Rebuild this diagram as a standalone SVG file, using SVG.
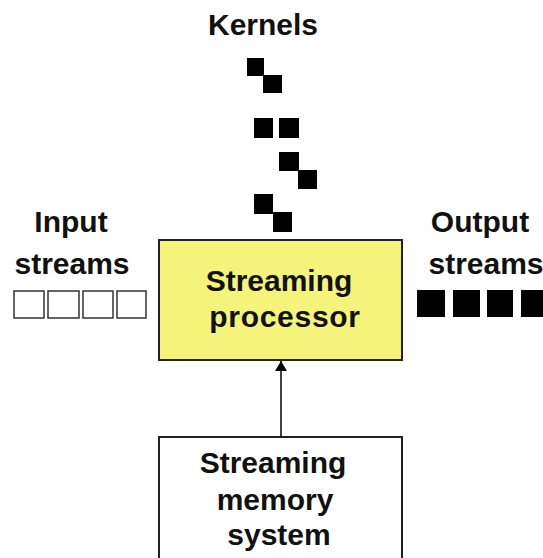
<svg xmlns="http://www.w3.org/2000/svg" width="543" height="558" viewBox="0 0 543 558">
<defs>
<style>
text{font-family:"Liberation Sans",Arial,sans-serif;font-weight:bold;font-size:30px;fill:#111;text-anchor:middle}
.k{fill:#000}
.in{fill:#fff;stroke:#333;stroke-width:1.5}
.box{stroke:#222;stroke-width:2}
</style>
<marker id="ah" viewBox="0 0 10 12" refX="10" refY="6" markerWidth="10" markerHeight="12" markerUnits="userSpaceOnUse" orient="auto">
<path d="M0,0 L10,6 L0,12 Z" fill="#000"/>
</marker>
</defs>
<rect width="543" height="558" fill="#fff"/>
<g id="kernels">
<text x="263" y="35">Kernels</text>
<rect class="k" x="247" y="58" width="17" height="18"/>
<rect class="k" x="263" y="75" width="19" height="18"/>
<rect class="k" x="254" y="118" width="19" height="20"/>
<rect class="k" x="279" y="118" width="20" height="20"/>
<rect class="k" x="279" y="152" width="20" height="19"/>
<rect class="k" x="298" y="170" width="19" height="19"/>
<rect class="k" x="254" y="194" width="19" height="20"/>
<rect class="k" x="273" y="212" width="19" height="20"/>
</g>
<g id="input">
<text x="71" y="232">Input</text>
<text x="72" y="274">streams</text>
<rect class="in" x="14" y="291" width="30" height="27"/>
<rect class="in" x="48" y="291" width="31" height="27"/>
<rect class="in" x="83" y="291" width="30" height="27"/>
<rect class="in" x="117" y="291" width="29" height="27"/>
</g>
<g id="output">
<text x="480" y="232">Output</text>
<text x="486" y="274">streams</text>
<rect class="k" x="417" y="290" width="28" height="27"/>
<rect class="k" x="453" y="290" width="27" height="27"/>
<rect class="k" x="487" y="290" width="26" height="27"/>
<rect class="k" x="521" y="290" width="24" height="27"/>
</g>
<g id="processor">
<rect class="box" x="159" y="240" width="243" height="120" fill="#f4f47a"/>
<text x="279" y="291">Streaming</text>
<text x="285" y="327" letter-spacing="0.7">processor</text>
</g>
<g id="memory">
<rect class="box" x="159" y="437" width="243" height="130" fill="#fff"/>
<text x="273" y="473">Streaming</text>
<text x="275" y="510">memory</text>
<text x="279" y="545">system</text>
</g>
<g id="connectors">
<line x1="281" y1="437" x2="281" y2="361" stroke="#000" stroke-width="1.5" marker-end="url(#ah)"/>
</g>
</svg>
